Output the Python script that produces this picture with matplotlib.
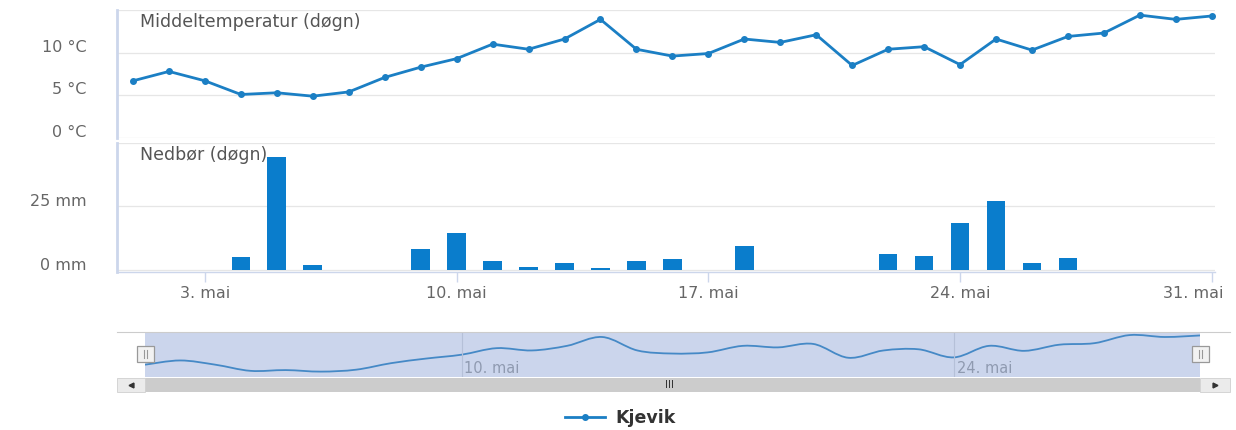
import numpy as np
import matplotlib
matplotlib.use('Agg')
import matplotlib.pyplot as plt
from matplotlib.path import Path
from matplotlib.patches import PathPatch, Rectangle
from matplotlib.transforms import ScaledTranslation

W = 1236
H = 430

days = list(range(1, 32))
temp = [6.7, 7.8, 6.7, 5.1, 5.3, 4.9, 5.4, 7.1, 8.3, 9.3, 11.0, 10.4, 11.6, 13.9, 10.4, 9.6,
        9.9, 11.6, 11.2, 12.1, 8.5, 10.4, 10.7, 8.6, 11.6, 10.3, 11.9, 12.3, 14.4, 13.9, 14.3]
precip = [0, 0, 0, 4.9, 44.5, 1.9, 0, 0, 8.1, 14.3, 3.6, 1.1, 2.7, 0.5, 3.6, 4.1,
          0, 9.4, 0, 0, 0, 6.3, 5.4, 18.4, 27.0, 2.7, 4.6, 0, 0, 0, 0]
x_ticks = [3, 10, 17, 24, 31]
x_labels = ['3. mai', '10. mai', '17. mai', '24. mai', '31. mai']
nav_ticks = [10, 24]
nav_labels = ['10. mai', '24. mai']
temp_ticks = [0, 5, 10, 15]
temp_labels = ['0 °C', '5 °C', '10 °C', '']
precip_ticks = [0, 25, 50]
precip_labels = ['0 mm', '25 mm', '']
station = 'Kjevik'

LINE = '#1b7fc4'
BAR = '#0a7dcc'
GRID = '#e6e6e6'
AXIS = '#ccd6eb'
TXT = '#666666'

plt.rcParams['font.family'] = ['DejaVu Sans']


def box(x0, y0, x1, y1):
    # pixel box (top-left origin) -> figure fraction rect
    return [x0 / W, 1 - y1 / H, (x1 - x0) / W, (y1 - y0) / H]


def shift(lab, dx_px, dy_px):
    off = ScaledTranslation(dx_px / 100, dy_px / 100, lab.figure.dpi_scale_trans)
    lab.set_transform(lab.get_transform() + off)


def style_panel(ax):
    for s in ['top', 'right', 'bottom']:
        ax.spines[s].set_visible(False)
    ax.spines['left'].set_color(AXIS)
    ax.spines['left'].set_linewidth(2)
    ax.grid(axis='y', color=GRID, linewidth=0.9)
    ax.set_axisbelow(True)
    ax.tick_params(axis='y', length=0, pad=22, labelsize=11.5, labelcolor=TXT)
    ax.set_xlim(0.555, 31.09)


fig = plt.figure(figsize=(W / 100, H / 100), dpi=100)

# temperature panel
ax1 = fig.add_axes(box(117, 10, 1215, 138))
style_panel(ax1)
ax1.plot(days, temp, color=LINE, linewidth=2, marker='o', markersize=4, label=station,
         clip_on=False)
ax1.set_ylim(0, 15)
ax1.set_yticks(temp_ticks, temp_labels)
ax1.set_xticks([])
for lab in ax1.get_yticklabels():
    shift(lab, 0, 7)
fig.text(140 / W, 1 - 22 / H, 'Middeltemperatur (døgn)', fontsize=12.5, color='#555555',
         va='center', ha='left')

# precipitation panel
ax2 = fig.add_axes(box(117, 143, 1215, 272))
style_panel(ax2)
ax2.bar(days, precip, width=0.52, color=BAR, zorder=2)
ax2.set_ylim(-0.9, 50)
ax2.set_yticks(precip_ticks, precip_labels)
for lab in ax2.get_yticklabels():
    shift(lab, 0, 6)
ax2.spines['bottom'].set_visible(True)
ax2.spines['bottom'].set_color(AXIS)
ax2.spines['bottom'].set_linewidth(1)
ax2.set_xticks(x_ticks, x_labels)
ax2.tick_params(axis='x', length=7, width=1, color=AXIS, pad=3, labelsize=11.5, labelcolor=TXT)
last = ax2.get_xticklabels()[-1]
last.set_ha('right')
shift(last, 12, 0)
fig.text(140 / W, 1 - 155 / H, 'Nedbør (døgn)', fontsize=12.5, color='#555555',
         va='center', ha='left', zorder=5)

# navigator
nav = fig.add_axes(box(145, 332, 1200, 377))
nav.set_facecolor('#cbd5ec')
for s in nav.spines.values():
    s.set_visible(False)
nav.set_xlim(1, 31)
nav.set_ylim(3.5, 15.2)
nav.set_xticks([])
nav.set_yticks([])
pts = np.column_stack([days, temp]).astype(float)
verts = [pts[0]]
codes = [Path.MOVETO]
for i in range(len(pts) - 1):
    p0 = pts[max(i - 1, 0)]
    p1 = pts[i]
    p2 = pts[i + 1]
    p3 = pts[min(i + 2, len(pts) - 1)]
    verts += [p1 + (p2 - p0) / 6, p2 - (p3 - p1) / 6, p2]
    codes += [Path.CURVE4] * 3
nav.add_patch(PathPatch(Path(verts, codes), facecolor='none', edgecolor='#4589c6', linewidth=1.3))
for d, lab in zip(nav_ticks, nav_labels):
    nav.axvline(d, color='#b5c0d8', linewidth=0.8)
    nav.text(d + 0.08, 3.7, lab, fontsize=10.5, color='#8f9ab0', va='bottom', ha='left')

# scrollbar, handles and outline drawn in pixel space
over = fig.add_axes([0, 0, 1, 1])
over.set_xlim(0, W)
over.set_ylim(H, 0)
over.axis('off')
over.plot([117, 1230], [332, 332], color='#cccccc', linewidth=0.8)
over.add_patch(Rectangle((145, 378), 1055, 14, facecolor='#cccccc', edgecolor='none'))
over.add_patch(Rectangle((117, 378), 28, 14, facecolor='#ebebeb', edgecolor='#d0d0d0', linewidth=0.6))
over.add_patch(Rectangle((1200, 378), 30, 14, facecolor='#ebebeb', edgecolor='#d0d0d0', linewidth=0.6))
over.plot([131], [385], marker='<', color='#333333', markersize=3.5)
over.plot([1215], [385], marker='>', color='#333333', markersize=3.5)
over.text(670, 385, 'III', fontsize=7.5, color='#333333', ha='center', va='center')
for hx in [137, 1192]:
    over.add_patch(Rectangle((hx, 346), 17, 16, facecolor='#f2f2f2', edgecolor='#999999', linewidth=0.9))
    over.plot([hx + 7, hx + 7], [350, 358], color='#999999', linewidth=0.8)
    over.plot([hx + 10, hx + 10], [350, 358], color='#999999', linewidth=0.8)

fig.legend(*ax1.get_legend_handles_labels(), loc='center', bbox_to_anchor=(0.502, 1 - 418 / H),
           frameon=False, handlelength=2.3, handletextpad=0.6,
           prop={'weight': 'bold', 'size': 12.5})
for t in fig.legends[0].get_texts():
    t.set_color('#333333')

fig.savefig('out.png', dpi=100)
